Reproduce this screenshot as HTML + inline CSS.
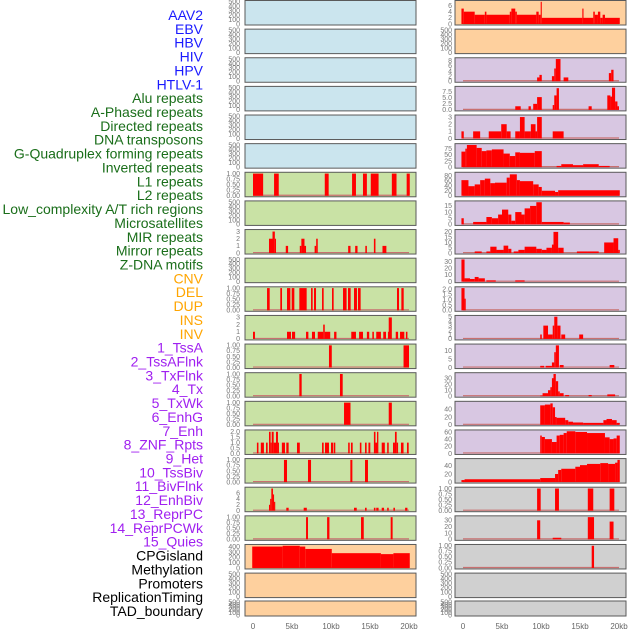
<!DOCTYPE html>
<html><head><meta charset="utf-8"><style>
html,body{margin:0;padding:0;background:#fff;width:630px;height:630px;overflow:hidden}
svg{display:block}
</style></head><body>
<svg id="chart" width="630" height="630" xmlns="http://www.w3.org/2000/svg"></svg>
<script>
// ---- data ----
const trackNames = ["AAV2","EBV","HBV","HIV","HPV","HTLV-1","Alu repeats","A-Phased repeats","Directed repeats","DNA transposons","G-Quadruplex forming repeats","Inverted repeats","L1 repeats","L2 repeats","Low_complexity A/T rich regions","Microsatellites","MIR repeats","Mirror repeats","Z-DNA motifs","CNV","DEL","DUP","INS","INV","1_TssA","2_TssAFlnk","3_TxFlnk","4_Tx","5_TxWk","6_EnhG","7_Enh","8_ZNF_Rpts","9_Het","10_TssBiv","11_BivFlnk","12_EnhBiv","13_ReprPC","14_ReprPCWk","15_Quies","CPGisland","Methylation","Promoters","ReplicationTiming","TAD_boundary"];
const labelGroups = ["v","v","v","v","v","v","r","r","r","r","r","r","r","r","r","r","r","r","r","s","s","s","s","s","c","c","c","c","c","c","c","c","c","c","c","c","c","c","c","o","o","o","o","o"];
const xTickValues = [0,5,10,15,20];
const xTickLabels = ["0","5kb","10kb","15kb","20kb"];
const emptyTicks = ["0","100","200","300","400","500"];
const unitTicks = ["0.00","0.25","0.50","0.75","1.00"];

// left column tracks: spans [startKb, endKb, value]
const l0=[],l1=[],l2=[],l3=[],l4=[],l5=[],l7=[],l9=[],l20=[],l21=[];
const l6=[[0,1.3,1],[2.7,3.3,1],[9.2,9.7,1],[12.7,13.2,1],[14.1,14.6,1],[15.1,16.1,1],[17.8,18.4,1],[19.7,20.1,1]];
const l8=[[2.05,2.5,2],[2.5,2.8,3],[2.8,2.95,2],[4.2,4.5,1],[6.0,6.2,1],[6.2,6.6,2],[6.6,6.8,1],[7.9,8.1,1],[8.1,8.3,2],[12.2,12.5,1],[13.1,13.4,1],[14.4,14.6,1],[15.5,15.7,2],[16.6,17.1,1]];
const l10=[[1.8,2.14,1],[3.5,3.72,1],[4.36,4.79,1],[4.96,5.3,1],[5.94,6.88,1],[7.44,7.65,1],[7.82,8.08,1],[8.85,9.06,1],[10.13,10.34,1],[11.54,12.0,1],[12.18,12.52,1],[12.95,13.33,1],[13.46,13.8,1],[18.46,18.72,1],[19.02,19.32,1]];
const l11=[[0,0.25,1],[4.36,4.87,1],[5.0,5.4,1],[6.8,7.1,1],[7.56,7.95,1],[8.3,9.0,1],[9.0,9.2,2],[9.2,9.9,1],[10.4,10.7,1],[12.6,13.2,1],[13.6,14.1,1],[14.6,14.9,1],[15.3,15.5,1],[15.8,16.4,1],[16.7,17.05,1],[17.3,17.4,1],[17.4,17.8,3],[18.3,18.6,1],[18.85,19.4,1],[19.6,19.8,1]];
const l12=[[9.74,10.1,1],[19.3,20.0,1]];
const l13=[[5.94,6.24,1],[11.15,11.5,1]];
const l14=[[11.67,12.5,1],[17.4,17.8,1]];
const l15=[[0.5,0.7,1],[1.0,1.4,1],[1.67,1.88,1],[2.05,2.26,2],[2.26,2.4,1],[2.4,2.65,2],[2.65,2.95,1],[2.95,3.2,2],[3.2,3.3,1],[3.7,4.1,1],[4.27,4.57,1],[5.64,6.0,1],[8.85,9.06,1],[9.23,9.74,1],[10.0,10.26,1],[10.34,10.55,1],[12.2,12.4,1],[12.56,12.78,1],[13.7,13.9,1],[14.36,14.57,1],[14.8,15.04,1],[15.5,15.7,2],[15.7,15.9,1],[15.9,16.07,2],[16.5,16.9,1],[17.2,17.4,1],[17.95,18.2,1],[18.2,18.42,2],[18.42,18.6,1],[18.97,19.3,1],[19.74,19.96,1]];
const l16=[[3.97,4.36,1],[7.05,7.44,1],[12.48,12.74,1],[14.36,14.74,1]];
const l17=[[2.05,2.2,2],[2.2,2.35,4],[2.35,2.56,7.5],[2.56,2.7,5.5],[2.7,2.85,3],[4.27,4.57,1],[6.5,6.9,1],[12.95,13.3,1],[14.36,14.57,1],[15.5,15.7,1],[15.8,16.1,1],[16.5,16.8,1],[17.2,17.4,1],[18.0,18.2,1],[19.5,19.8,1]];
const l18=[[6.8,7.05,1],[9.5,9.8,1],[13.85,14.2,1],[17.65,17.9,1]];
const l19=[[-0.1,3.8,405],[3.8,6.0,420],[6.0,6.7,405],[6.7,10.1,360],[10.1,16.4,280],[16.4,18.0,262],[18.0,20.1,280]];

// right column tracks
const r1=[],r20=[],r21=[];
const r0=[[-0.2,0.1,5],[0.1,1.5,4],[1.5,2.8,3],[2.8,3.0,4],[3.0,6.0,3],[6.0,6.2,4],[6.2,6.7,5],[6.7,6.9,4],[6.9,9.4,3],[9.4,9.7,4],[9.7,9.96,3],[9.96,10.1,7.2],[10.1,15.3,2],[15.3,15.45,5],[15.45,16.7,2],[16.7,16.9,4],[16.9,17.3,3],[17.3,17.6,4],[17.6,17.9,2],[17.9,18.2,3],[18.2,20.1,2]];
const r2=[[9.5,9.8,1.5],[9.8,10.1,2.5],[11.4,11.7,2],[11.7,11.9,5],[11.9,12.5,8.7],[12.9,13.5,1.5],[18.7,19.0,3.2],[19.0,19.3,4.5]];
const r3=[[6.7,7.4,1.5],[8.4,8.7,1.5],[9.0,9.5,2.5],[9.5,10.1,5.3],[11.5,11.7,2],[11.7,12.0,6],[12.0,12.3,9],[16.1,16.5,1.5],[18.5,18.9,6],[18.9,19.1,5.5],[19.1,19.5,9.2],[19.5,19.8,3.5],[19.8,20.0,1.5]];
const r4=[[-0.2,0.1,1],[1.3,2.2,1],[3.3,4.9,1],[4.9,5.6,2],[5.6,6.1,1],[6.7,7.3,1],[7.3,7.9,3],[7.9,8.7,1],[8.7,9.3,2],[9.3,9.5,1],[9.5,10.1,3],[11.5,12.9,1]];
const r5=[[-0.2,0.3,63],[0.3,0.5,75],[0.5,1.75,90],[1.75,2.4,78],[2.4,3.0,65],[3.0,3.7,68],[3.7,5.2,72],[5.2,6.0,55],[6.0,6.7,45],[6.7,7.3,60],[7.3,9.2,58],[9.2,10.1,65],[12.0,12.6,5],[12.6,14.1,12],[14.1,15.4,8],[15.4,17.4,12],[17.4,18.8,5]];
const r6=[[-0.2,0.7,62],[0.7,1.5,38],[1.5,2.2,45],[2.2,2.8,62],[2.8,3.5,68],[3.5,4.1,50],[4.1,5.6,52],[5.6,6.0,72],[6.0,6.9,85],[6.9,7.3,62],[7.3,9.0,58],[9.0,9.7,45],[9.7,10.1,35],[10.1,11.8,20],[11.8,12.2,15],[12.2,20.1,22]];
const r7=[[-0.2,0.1,5],[1.3,3.0,2],[3.0,3.7,6],[3.7,4.5,5],[4.5,5.0,8],[5.0,5.8,12],[5.8,6.2,8],[6.2,6.7,3],[6.7,7.5,10],[7.5,7.9,8],[7.9,8.6,13],[8.6,9.4,15],[9.4,10.1,18],[10.1,12.9,2],[12.9,13.7,1.5]];
const r8=[[1.5,2.4,1.5],[3.0,3.5,1.5],[3.5,4.3,6],[4.3,5.2,3],[5.2,5.8,7],[5.8,6.2,4],[6.5,7.1,1.5],[7.1,7.9,3],[7.9,9.4,6],[9.4,10.1,4],[10.1,10.7,3],[10.7,11.4,5],[11.4,11.6,8],[11.6,12.2,20],[12.2,12.9,5],[14.6,15.9,1.5],[15.9,17.4,1.5],[18.1,19.3,10],[19.3,19.9,14],[19.9,20.1,3]];
const r9=[[-0.2,0.2,33],[0.2,0.9,5],[0.9,1.5,4],[1.5,2.0,7],[2.0,2.8,5],[3.0,4.2,2],[6.7,7.9,2]];
const r10=[[-0.2,0.2,2.1],[0.2,0.35,1.1]];
const r11=[[9.9,10.1,1],[10.3,10.9,3],[10.9,11.5,1],[11.5,11.7,3],[11.7,12.1,5],[12.1,12.5,3],[12.6,13.1,1],[14.9,15.4,1]];
const r12=[[9.9,10.4,1],[10.6,11.4,1],[11.4,11.7,3],[11.7,11.9,9],[11.9,12.3,13],[12.4,12.9,1.5],[18.8,19.4,1.5]];
const r13=[[9.9,10.2,1],[10.2,10.9,5],[10.9,11.2,10],[11.2,11.4,15],[11.4,11.6,30],[11.6,11.9,37],[11.9,12.2,25],[12.2,12.4,8],[12.4,12.9,5],[13.1,13.6,2],[16.1,16.5,2],[18.5,19.5,3]];
const r14=[[9.9,10.5,50],[10.5,11.2,52],[11.2,11.5,55],[11.5,11.8,45],[11.8,12.0,20],[12.0,13.1,18],[13.1,13.5,12],[13.5,14.1,8],[14.1,15.4,6],[15.4,18.0,5],[18.0,18.4,12],[18.4,19.1,15],[19.1,19.7,12],[19.7,20.1,5]];
const r15=[[9.9,10.1,50],[10.1,10.5,46],[10.5,11.4,40],[11.4,12.0,32],[12.0,12.4,50],[12.4,12.9,52],[12.9,13.3,57],[13.3,14.4,62],[14.4,15.9,60],[15.9,18.2,57],[18.2,18.8,45],[18.8,19.3,40],[19.3,19.7,42],[19.7,20.1,50]];
const r16=[[-0.2,0.2,5],[0.2,9.9,7],[9.9,11.8,10],[11.8,12.2,20],[12.2,12.6,30],[12.6,14.4,33],[14.4,15.0,38],[15.0,15.9,42],[15.9,17.6,45],[17.6,18.6,47],[18.6,19.5,45],[19.5,19.8,48],[19.8,20.1,55]];
const r17=[[9.5,9.96,1],[11.8,12.3,1],[16.0,16.7,1],[18.8,19.4,1]];
const r18=[[9.5,9.9,30],[11.5,12.6,2.5],[16.0,16.8,35],[18.8,19.3,28]];
const r19=[[16.5,16.8,1]];

const leftSpans=[l0,l1,l2,l3,l4,l5,l6,l7,l8,l9,l10,l11,l12,l13,l14,l15,l16,l17,l18,l19,l20,l21];
const rightSpans=[r0,r1,r2,r3,r4,r5,r6,r7,r8,r9,r10,r11,r12,r13,r14,r15,r16,r17,r18,r19,r20,r21];
const leftYMax=[500,500,500,500,500,500,1,500,3.1,500,1,3.1,1,1,1,2.05,1,7.5,1,420,500,500];
const rightYMax=[7.2,500,8.7,9.2,3.1,90,88,18,21,33,2.1,5,13,37,57,62,55,1,35,1,500,500];
const leftTicks=[emptyTicks,emptyTicks,emptyTicks,emptyTicks,emptyTicks,emptyTicks,unitTicks,emptyTicks,["0","1","2","3"],emptyTicks,unitTicks,["0","1","2","3"],unitTicks,unitTicks,unitTicks,["0.0","0.5","1.0","1.5","2.0"],unitTicks,["0","2","4","6"],unitTicks,["0","100","200","300","400"],emptyTicks,emptyTicks];
const rightTicks=[["0","2","4","6"],emptyTicks,["0","2","4","6","8"],["0.0","2.5","5.0","7.5"],["0","1","2","3"],["0","25","50","75"],["0","20","40","60","80"],["0","5","10","15"],["0","5","10","15","20"],["0","10","20","30"],["0.0","0.5","1.0","1.5","2.0"],["0","1","2","3","4","5"],["0","5","10"],["0","10","20","30"],["0","20","40"],["0","20","40","60"],["0","20","40"],unitTicks,["0","10","20","30"],unitTicks,emptyTicks,emptyTicks];
const leftBg=["B","B","B","B","B","B","G","G","G","G","G","G","G","G","G","G","G","G","G","O","O","O"];
const rightBg=["O","O","P","P","P","P","P","P","P","P","P","P","P","P","P","P","Y","Y","Y","Y","Y","Y"];

// ---- rendering ----
const NS="http://www.w3.org/2000/svg";
const svg=document.getElementById("chart");
const bgColors={B:"#cbe5ee",O:"#fed09e",P:"#d8c7e2",G:"#c9e2a5",Y:"#d0d0d0"};
const labelColors={v:"#1a1aff",r:"#1a6e1a",s:"#ffa500",c:"#a020f0",o:"#000000"};
function mk(tag,attrs,parent){const e=document.createElementNS(NS,tag);for(const k in attrs)e.setAttribute(k,attrs[k]);(parent||svg).appendChild(e);return e;}
function rowTop(i){return i===21?601:i*28.63+0.5;}
function rowH(i){return i===21?15:24.5;}
function xScale(col,kb){return (col===0?253:463)+kb*7.8;}
function yScale(i,v,ymax){const b=rowTop(i)+rowH(i)-1;return b-v/ymax*(rowH(i)-2.3);}

trackNames.forEach((n,k)=>{
  const t=mk("text",{x:203,y:20+k*13.86,"text-anchor":"end","font-family":"Liberation Sans, sans-serif","font-size":"14",fill:labelColors[labelGroups[k]]});
  t.textContent=n;
  
  
});

function drawPanel(col,i){
  const spans=col===0?leftSpans[i]:rightSpans[i];
  const ymax=col===0?leftYMax[i]:rightYMax[i];
  const ticks=col===0?leftTicks[i]:rightTicks[i];
  const bg=col===0?leftBg[i]:rightBg[i];
  const px=col===0?245:455, top=rowTop(i), h=rowH(i);
  const g=mk("g",{});
  
  
  mk("rect",{x:px,y:top,width:171,height:h,fill:bgColors[bg],stroke:"#5a5a5a","stroke-width":1},g);
  const tx=col===0?240:452;
  ticks.forEach(s=>{
    const v=parseFloat(s);
    const t=mk("text",{x:tx,y:yScale(i,v,ymax)+2.3,"text-anchor":"end","font-family":"Liberation Sans, sans-serif","font-size":"7",fill:"#777"},g);
    t.textContent=s;
    
    
  });
  if(spans.length){
    const y0=yScale(i,0,ymax);
    const bl=mk("line",{x1:xScale(col,0),x2:xScale(col,20),y1:y0-0.5,y2:y0-0.5,stroke:"#c87070","stroke-width":1.2},g);
    
    
    spans.forEach(s=>{
      const x1=xScale(col,s[0]),x2=xScale(col,s[1]),yv=yScale(i,s[2],ymax);
      const r=mk("rect",{x:x1,y:yv,width:Math.max(1,x2-x1),height:y0-yv,fill:"#ff0000"},g);
      
      
    });
  }
}
for(let i=0;i<22;i++){drawPanel(0,i);drawPanel(1,i);}

[0,1].forEach(col=>{
  xTickValues.forEach((v,j)=>{
    const t=mk("text",{x:xScale(col,v),y:629,"text-anchor":"middle","font-family":"Liberation Sans, sans-serif","font-size":"8",fill:"#666"});
    t.textContent=xTickLabels[j];
    
    
  });
});
</script>
</body></html>
